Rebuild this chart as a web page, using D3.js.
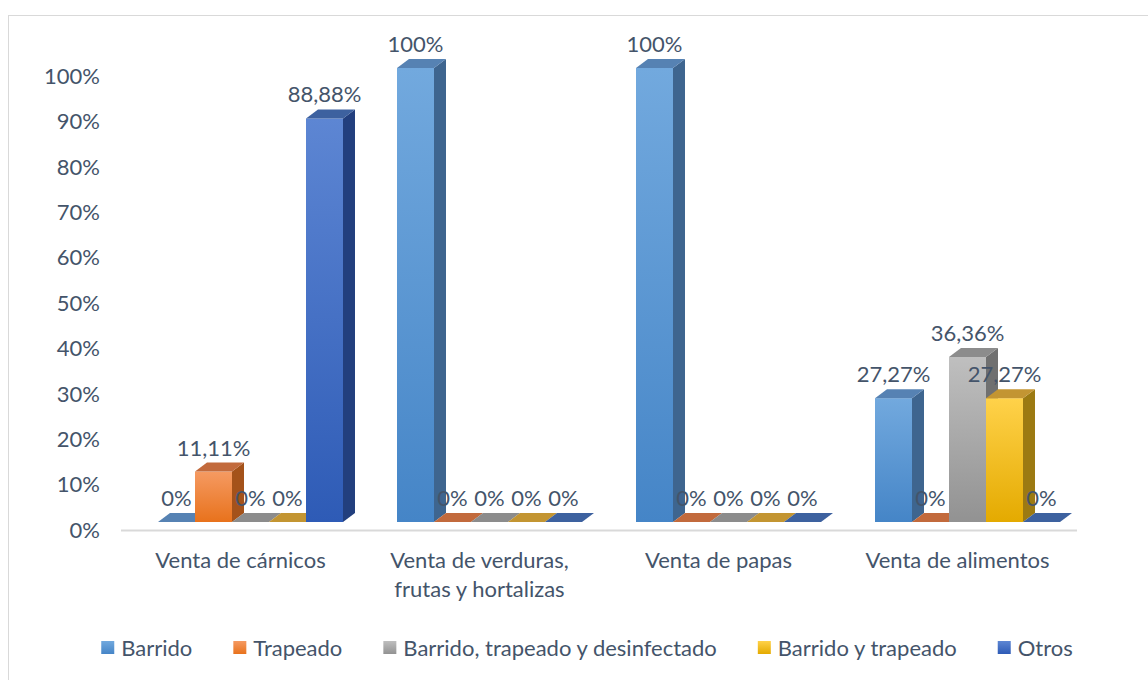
<!DOCTYPE html>
<html>
<head>
<meta charset="utf-8">
<script src="https://cdn.jsdelivr.net/npm/d3@7"></script>
<style>
  body { margin: 0; background: #fff; }
  svg text { font-family: Lato, "Open Sans", sans-serif; fill: #44546a; }
</style>
</head>
<body>
<script>
// chart data
var categories = [["Venta de cárnicos"], ["Venta de verduras,", "frutas y hortalizas"], ["Venta de papas"], ["Venta de alimentos"]];
var series = ["Barrido", "Trapeado", "Barrido, trapeado y desinfectado", "Barrido y trapeado", "Otros"];
var values = [
  [0, 0.1111, 0, 0, 0.8888],
  [1, 0, 0, 0, 0],
  [1, 0, 0, 0, 0],
  [0.2727, 0, 0.3636, 0.2727, 0]
];
var labels = [
  ["0%", "11,11%", "0%", "0%", "88,88%"],
  ["100%", "0%", "0%", "0%", "0%"],
  ["100%", "0%", "0%", "0%", "0%"],
  ["27,27%", "0%", "36,36%", "27,27%", "0%"]
];
var yTicks = [0, 0.1, 0.2, 0.3, 0.4, 0.5, 0.6, 0.7, 0.8, 0.9, 1];

// colours: [front top, front bottom, side, top]
var colors = [
  ["#72a9de", "#4585c7", "#3e658f", "#5682b3"],
  ["#f59a62", "#e8721c", "#a4521a", "#c26a3c"],
  ["#bfbfbf", "#929292", "#707070", "#8c8c8c"],
  ["#ffd24a", "#e4aa00", "#9c7a12", "#c39532"],
  ["#5d86d3", "#2e5bb6", "#223f7e", "#3d619f"]
];

var svgWidth = 1148, svgHeight = 680;
var depthX = 12, depthY = 9;
var fontSize = "22px";

var svg = d3.select("body").append("svg")
  .attr("width", svgWidth)
  .attr("height", svgHeight);

// chart frame
svg.append("rect")
  .attr("x", 8.5).attr("y", 15.5)
  .attr("width", 1160).attr("height", 700)
  .attr("fill", "none")
  .attr("stroke", "#d9d9d9");

var defs = svg.append("defs");
colors.forEach(function(c, i) {
  var g = defs.append("linearGradient")
    .attr("id", "grad" + i)
    .attr("x1", 0).attr("y1", 0).attr("x2", 0).attr("y2", 1);
  g.append("stop").attr("offset", "0%").attr("stop-color", c[0]);
  g.append("stop").attr("offset", "100%").attr("stop-color", c[1]);
});

// scales
var xBand = d3.scaleBand().domain(d3.range(categories.length)).range([121, 1077]);
var xInner = d3.scaleBand().domain(d3.range(series.length)).range([37, 37 + 185]);
var yAxisScale = d3.scaleLinear().domain([0, 1]).range([530, 76]);
var yFront = d3.scaleLinear().domain([0, 1]).range([522, 68]);

// y tick labels
svg.append("g").selectAll("text")
  .data(yTicks)
  .enter().append("text")
  .attr("x", 100)
  .attr("y", d => yAxisScale(d))
  .attr("dy", "0.35em")
  .attr("text-anchor", "end")
  .style("font-size", fontSize)
  .text(d => Math.round(d * 100) + "%");

// floor line
svg.append("line")
  .attr("x1", 121).attr("x2", 1077)
  .attr("y1", yAxisScale(0) + 0.5).attr("y2", yAxisScale(0) + 0.5)
  .attr("stroke", "#d9d9d9")
  .attr("stroke-width", 2);

// bars
var barsG = svg.append("g");
values.forEach(function(row, ci) {
  row.forEach(function(v, si) {
    var x0 = xBand(ci) + xInner(si);
    var w = xInner.bandwidth();
    var yb = yFront(0), yt = yFront(v);
    var g = barsG.append("g");
    // side face
    g.append("path")
      .attr("d", `M${x0 + w},${yb} L${x0 + w + depthX},${yb - depthY} L${x0 + w + depthX},${yt - depthY} L${x0 + w},${yt} Z`)
      .attr("fill", colors[si][2]);
    // front face
    if (v > 0) {
      g.append("rect")
        .attr("x", x0).attr("y", yt)
        .attr("width", w).attr("height", yb - yt)
        .attr("fill", "url(#grad" + si + ")");
    }
    // top face
    g.append("path")
      .attr("d", `M${x0},${yt} L${x0 + depthX},${yt - depthY} L${x0 + w + depthX},${yt - depthY} L${x0 + w},${yt} Z`)
      .attr("fill", colors[si][3]);
  });
});

// data labels
values.forEach(function(row, ci) {
  row.forEach(function(v, si) {
    svg.append("text")
      .attr("x", xBand(ci) + xInner(si) + xInner.bandwidth() / 2)
      .attr("y", yFront(v) - 16)
      .attr("text-anchor", "middle")
      .style("font-size", fontSize)
      .text(labels[ci][si]);
  });
});

// category labels
categories.forEach(function(lines, ci) {
  var t = svg.append("text")
    .attr("text-anchor", "middle")
    .style("font-size", fontSize);
  lines.forEach(function(line, li) {
    t.append("tspan")
      .attr("x", xBand(ci) + xBand.bandwidth() / 2)
      .attr("y", 568 + li * 29)
      .text(line);
  });
});

// legend
var legend = svg.append("g");
var lx = 0;
var items = [];
series.forEach(function(name, si) {
  var it = legend.append("g");
  it.append("rect")
    .attr("x", 0).attr("y", -7)
    .attr("width", 13).attr("height", 13)
    .attr("fill", "url(#grad" + si + ")");
  var t = it.append("text")
    .attr("x", 20).attr("y", 0)
    .attr("dy", "0.35em")
    .style("font-size", fontSize)
    .text(name);
  var w = 20 + t.node().getComputedTextLength();
  items.push({ g: it, x: lx });
  lx += w + 41;
});
var total = lx - 41;
var startX = 587 - total / 2;
items.forEach(function(d) {
  d.g.attr("transform", `translate(${startX + d.x}, 648)`);
});
</script>
</body>
</html>
